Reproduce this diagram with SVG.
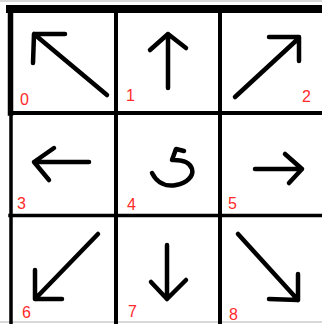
<svg xmlns="http://www.w3.org/2000/svg" width="322" height="324" viewBox="0 0 322 324">
<style>
.grid{stroke:#000;fill:none;stroke-linecap:square}
.arr{stroke:#000;stroke-width:4.5;fill:none;stroke-linecap:round;stroke-linejoin:round}
.lbl{font-family:"Liberation Sans",Arial,sans-serif;font-size:16px;fill:#ff2a2a}
</style>
<rect width="322" height="324" fill="#fff"/>
<g id="grid">
<line x1="0" y1="1" x2="322" y2="1" stroke="#d8d8d8" stroke-width="2"/>
<line x1="0" y1="322" x2="322" y2="322" stroke="#d8d8d8" stroke-width="2"/>
<line class="grid" x1="10" y1="9" x2="322" y2="9" stroke-width="8"/>
<line class="grid" x1="10.5" y1="9" x2="10.5" y2="113" stroke-width="5.5"/>
<line class="grid" x1="11" y1="113" x2="11" y2="324" stroke-width="3.5"/>
<line class="grid" x1="116" y1="9" x2="116" y2="324" stroke-width="4"/>
<line class="grid" x1="220" y1="9" x2="220" y2="324" stroke-width="4"/>
<line class="grid" x1="10" y1="113" x2="322" y2="113" stroke-width="4"/>
<line class="grid" x1="10" y1="215.5" x2="322" y2="215.5" stroke-width="3.5"/>
</g>
<g id="cell0">
<path class="arr" d="M107,95 L34,34 M65,34 L34,34 L33,63"/>
<text class="lbl" x="20" y="105">0</text>
</g>
<g id="cell1">
<path class="arr" d="M168,88 L168,34 M150,50 L168,34 L186,48"/>
<text class="lbl" x="126" y="101">1</text>
</g>
<g id="cell2">
<path class="arr" d="M235,97 L299,38 M269,37 L299,37 L299,61"/>
<text class="lbl" x="302" y="102">2</text>
</g>
<g id="cell3">
<path class="arr" d="M89,162 L34,162 M54,148 L34,162 L49,180"/>
<text class="lbl" x="17" y="209">3</text>
</g>
<g id="cell4">
<path class="arr" stroke-width="4" d="M152,173 C157,183 166,187 176,185 C187,183 194,176 192,169 C190,162 182,160 174,160 M172,160 L176,149 L184,151"/>
<text class="lbl" x="127" y="210">4</text>
</g>
<g id="cell5">
<path class="arr" d="M255,169 L302,169 M285,154 L302,169 L289,183"/>
<text class="lbl" x="228" y="209">5</text>
</g>
<g id="cell6">
<path class="arr" d="M98,234 L35,299 M35,270 L35,299 L62,299"/>
<text class="lbl" x="22" y="318">6</text>
</g>
<g id="cell7">
<path class="arr" d="M167,245 L167,299 M151,282 L167,299 L186,280"/>
<text class="lbl" x="128" y="317">7</text>
</g>
<g id="cell8">
<path class="arr" d="M238,234 L298,300 M298,274 L298,300 L269,299"/>
<text class="lbl" x="229" y="320">8</text>
</g>
</svg>
